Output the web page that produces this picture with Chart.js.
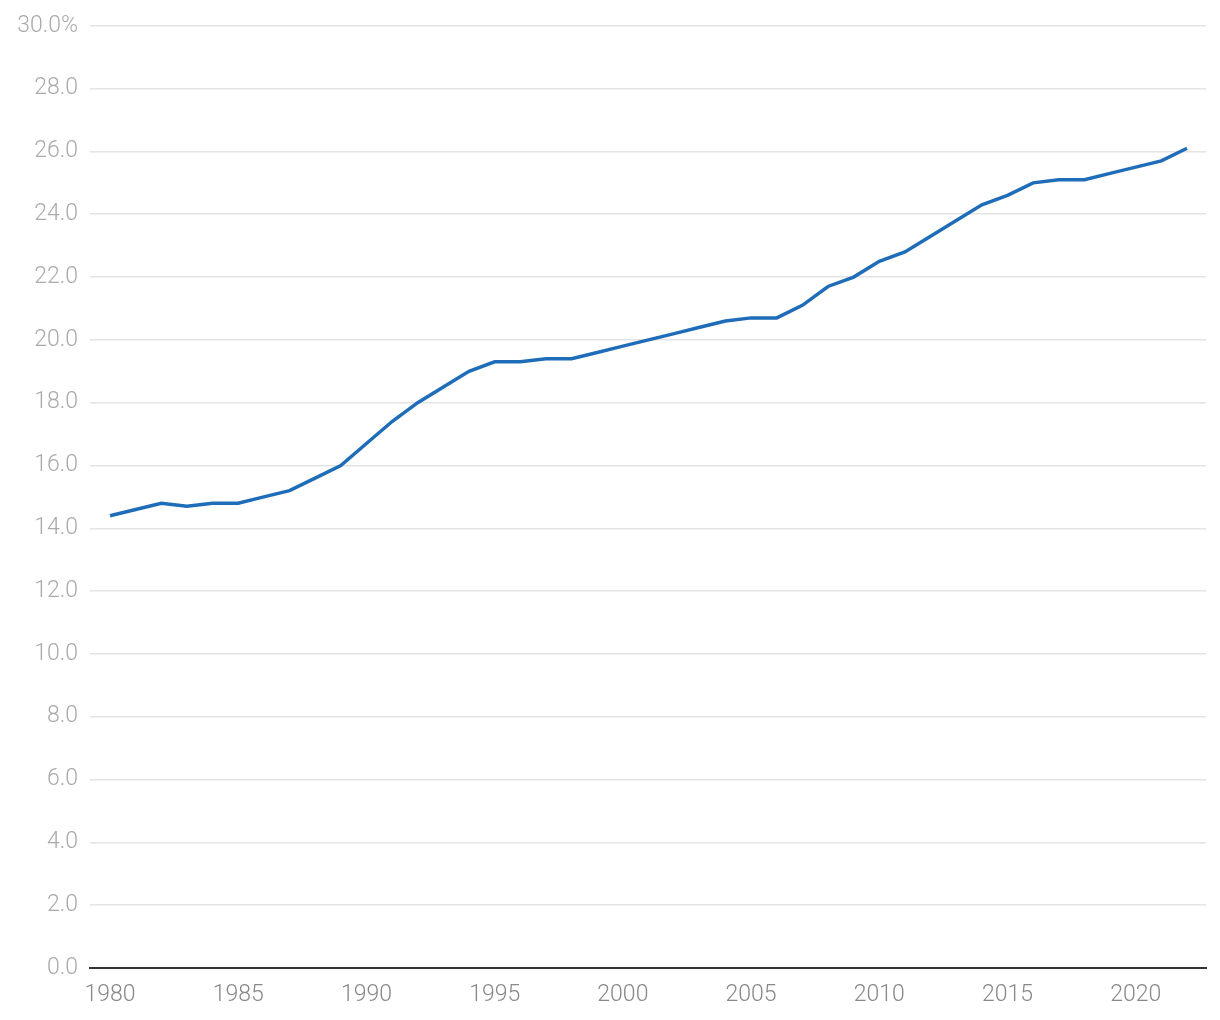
<!DOCTYPE html>
<html>
<head>
<meta charset="utf-8">
<script src="https://cdn.jsdelivr.net/npm/chart.js@4/dist/chart.umd.min.js"></script>
<style>
html,body{margin:0;padding:0;background:#fff;}
#wrap{width:1220px;height:1020px;position:relative;}
</style>
</head>
<body>
<div id="wrap"><canvas id="c" width="1220" height="1020"></canvas></div>
<script>
const years = [1980,1981,1982,1983,1984,1985,1986,1987,1988,1989,1990,1991,1992,1993,1994,1995,1996,1997,1998,1999,2000,2001,2002,2003,2004,2005,2006,2007,2008,2009,2010,2011,2012,2013,2014,2015,2016,2017,2018,2019,2020,2021,2022];
const shares = [14.4,14.6,14.8,14.7,14.8,14.8,15.0,15.2,15.6,16.0,16.7,17.4,18.0,18.5,19.0,19.3,19.3,19.4,19.4,19.6,19.8,20.0,20.2,20.4,20.6,20.7,20.7,21.1,21.7,22.0,22.5,22.8,23.3,23.8,24.3,24.6,25.0,25.1,25.1,25.3,25.5,25.7,26.1];
const xTicks = [1980,1985,1990,1995,2000,2005,2010,2015,2020];
const yTicks = [0,2,4,6,8,10,12,14,16,18,20,22,24,26,28,30];

const FONT = "Roboto, 'Liberation Sans', sans-serif";
new Chart(document.getElementById('c'), {
  type: 'line',
  data: {
    datasets: [{
      data: years.map((y,i)=>({x:y, y:shares[i]})),
      borderColor: '#1f6db8',
      borderWidth: 3.5,
      pointRadius: 0,
      tension: 0,
      fill: false
    }]
  },
  options: {
    responsive: false,
    animation: false,
    layout: { padding: { top: 19, right: 14, left: 0, bottom: 0 } },
    plugins: { legend: { display: false }, tooltip: { enabled: false } },
    scales: {
      x: {
        type: 'linear',
        min: 1979.22,
        max: 2022.74,
        afterBuildTicks: (axis) => { axis.ticks = xTicks.map(v => ({value: v})); },
        afterFit: (axis) => { axis.height = 52; },
        grid: { display: false, drawTicks: false },
        border: { display: true, color: '#333333', width: 2 },
        ticks: {
          color: '#888888',
          font: { family: FONT, size: 23, weight: '300' },
          padding: 13,
          maxRotation: 0,
          autoSkip: false,
          callback: (v) => String(v)
        }
      },
      y: {
        min: 0,
        max: 30,
        afterBuildTicks: (axis) => { axis.ticks = yTicks.map(v => ({value: v})); },
        afterFit: (axis) => { axis.width = 90; },
        grid: { color: '#e4e4e4', lineWidth: 1.5, drawTicks: false },
        border: { display: false },
        ticks: {
          color: '#aaaaaa',
          font: { family: FONT, size: 23, weight: '300' },
          padding: 12,
          callback: (v) => v === 30 ? '30.0%' : v.toFixed(1)
        }
      }
    }
  }
});
</script>
</body>
</html>
